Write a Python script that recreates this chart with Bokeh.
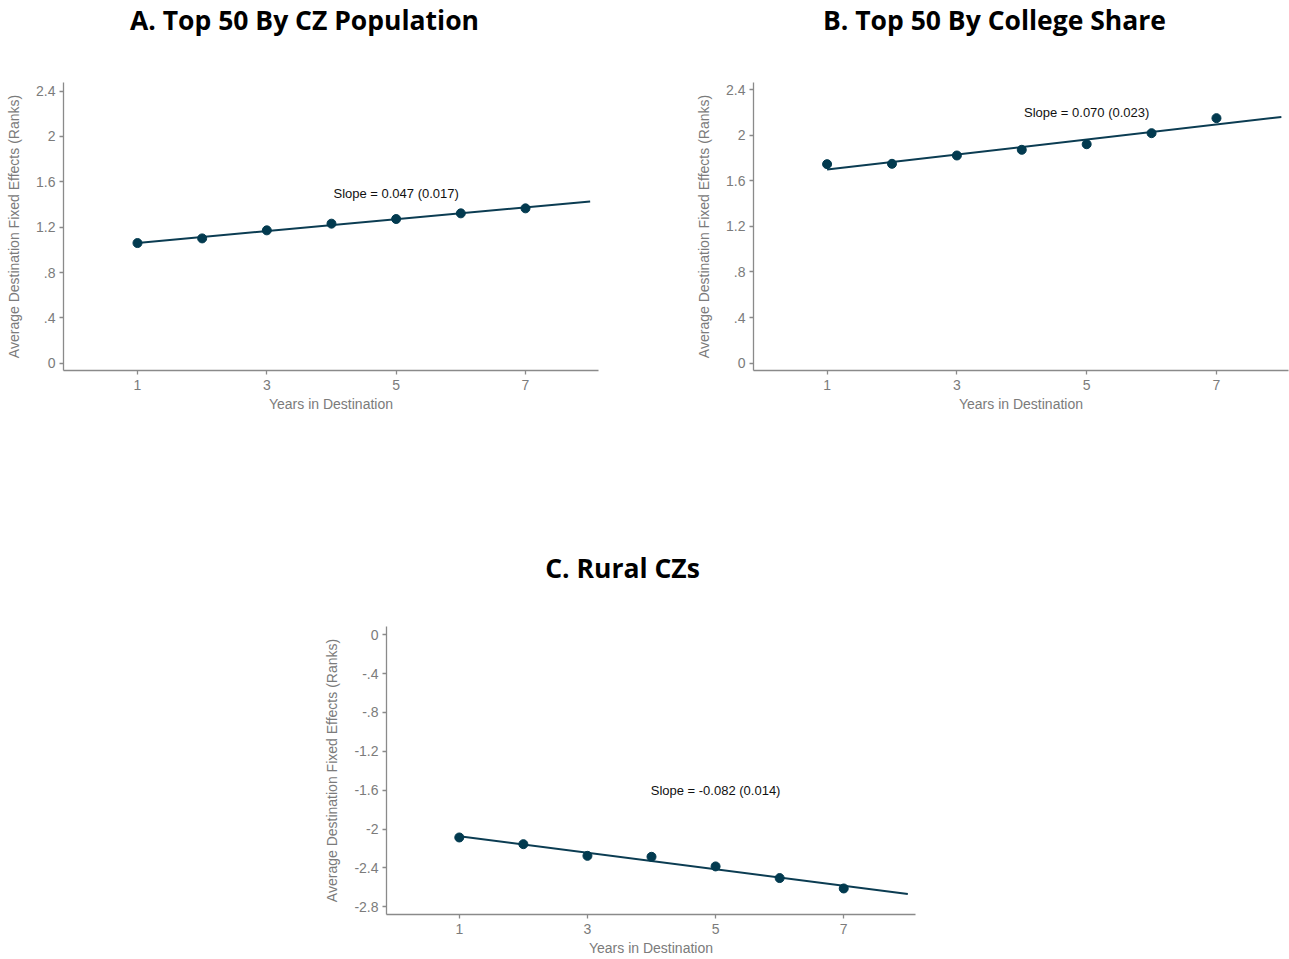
import numpy as np
from bokeh.plotting import figure
from bokeh.models import FixedTicker, Label, Spacer, Range1d
from bokeh.layouts import row, column
from bokeh.embed import file_html
from bokeh.resources import INLINE

# ---- data ----
years = [1, 2, 3, 4, 5, 6, 7]
top50_pop = [1.060, 1.101, 1.172, 1.231, 1.272, 1.322, 1.366]
top50_college = [1.747, 1.750, 1.823, 1.873, 1.922, 2.019, 2.151]
rural = [-2.087, -2.156, -2.276, -2.286, -2.385, -2.505, -2.612]

titles = ["A. Top 50 By CZ Population", "B. Top 50 By College Share", "C. Rural CZs"]
slope_texts = ["Slope = 0.047 (0.017)", "Slope = 0.070 (0.023)", "Slope = -0.082 (0.014)"]
slope_text_y = [1.5, 2.2, -1.6]
slope_text_x = 5

x_ticks = [1, 3, 5, 7]
y_ticks_top = [0, 0.4, 0.8, 1.2, 1.6, 2.0, 2.4]
y_tick_labels_top = ["0", ".4", ".8", "1.2", "1.6", "2", "2.4"]
y_ticks_rural = [0, -0.4, -0.8, -1.2, -1.6, -2.0, -2.4, -2.8]
y_tick_labels_rural = ["0", "-.4", "-.8", "-1.2", "-1.6", "-2", "-2.4", "-2.8"]

fit_x = [1, 8]

DOT = "#023a4f"
LINE = "#0b3c52"
GRAY = "#7b7b7b"
AXIS = "#8a8a8a"
FONT = "Liberation Sans"
TITLE_FONT = "Open Sans"


def make_panel(ys, yticks, ylabels, yrange, xrange, width, height, mb_left, mb_right,
               mb_top, mb_bottom, slope_text, slope_y):
    p = figure(width=width, height=height, x_range=xrange, y_range=yrange,
               output_backend="svg", toolbar_location=None,
               min_border_left=mb_left, min_border_right=mb_right,
               min_border_top=mb_top, min_border_bottom=mb_bottom)
    p.outline_line_color = None
    p.background_fill_color = "white"
    p.border_fill_color = "white"
    p.xgrid.visible = False
    p.ygrid.visible = False

    for ax in (p.xaxis[0], p.yaxis[0]):
        ax.axis_line_color = AXIS
        ax.axis_line_width = 1.3
        ax.major_tick_line_color = AXIS
        ax.major_tick_line_width = 1.3
        ax.major_tick_out = 4
        ax.major_tick_in = 0
        ax.minor_tick_line_color = None
        ax.major_label_text_color = GRAY
        ax.major_label_text_font = FONT
        ax.major_label_text_font_size = "14px"
        ax.axis_label_text_color = GRAY
        ax.axis_label_text_font = FONT
        ax.axis_label_text_font_size = "14px"
        ax.axis_label_text_font_style = "normal"

    p.xaxis.ticker = FixedTicker(ticks=x_ticks)
    p.xaxis.axis_label = "Years in Destination"
    p.xaxis.major_label_standoff = 5
    p.xaxis.axis_label_standoff = 3

    p.yaxis.ticker = FixedTicker(ticks=yticks)
    overrides = {}
    for t, l in zip(yticks, ylabels):
        overrides[float(t)] = l
        if float(t).is_integer():
            overrides[int(t)] = l
    p.yaxis.major_label_overrides = overrides
    p.yaxis.axis_label = "Average Destination Fixed Effects (Ranks)"
    p.yaxis.major_label_standoff = 4
    p.yaxis.axis_label_standoff = 11

    # fitted line (OLS on the plotted points)
    b, a = np.polyfit(years, ys, 1)
    p.line(fit_x, [a + b * x for x in fit_x], line_color=LINE, line_width=2)
    p.scatter(years, ys, size=9, fill_color=DOT, line_color=DOT, line_width=1)

    p.add_layout(Label(x=slope_text_x, y=slope_y, text=slope_text,
                       text_align="center", text_baseline="middle",
                       text_font=FONT, text_font_size="13px", text_color="#111111"))
    return p


def title_strip(width, height, items):
    t = figure(width=width, height=height, x_range=Range1d(0, width), y_range=Range1d(height, 0),
               output_backend="svg", toolbar_location=None,
               x_axis_location=None, y_axis_location=None,
               min_border_left=0, min_border_right=0, min_border_top=0, min_border_bottom=0)
    t.outline_line_color = None
    t.xgrid.visible = False
    t.ygrid.visible = False
    for txt, cx, cy in items:
        t.add_layout(Label(x=cx, y=cy, text=txt, text_align="center", text_baseline="middle",
                           text_font=TITLE_FONT, text_font_style="bold",
                           text_font_size="26.5px", text_color="black"))
    return t


tA_B = title_strip(1289, 40, [(titles[0], 304, 19), (titles[1], 994, 19)])
pA = make_panel(top50_pop, y_ticks_top, y_tick_labels_top, (-0.064, 2.476), (-0.144, 8.129),
                690, 375, 63, 92, 42, 45, slope_texts[0], slope_text_y[0])
pB = make_panel(top50_college, y_ticks_top, y_tick_labels_top, (-0.065, 2.464), (-0.134, 8.11),
                599, 375, 63, 1, 42, 45, slope_texts[1], slope_text_y[1])
tC = title_strip(1289, 171, [(titles[2], 622, 152)])
pC = make_panel(rural, y_ticks_rural, y_tick_labels_rural, (-2.88, 0.085), (-0.136, 8.12),
                599, 372, 63, 5, 40, 44, slope_texts[2], slope_text_y[2])

layout = column(tA_B, row(pA, pB), tC, row(Spacer(width=321, height=372), pC))

open("out.html", "w").write(file_html(layout, INLINE))
